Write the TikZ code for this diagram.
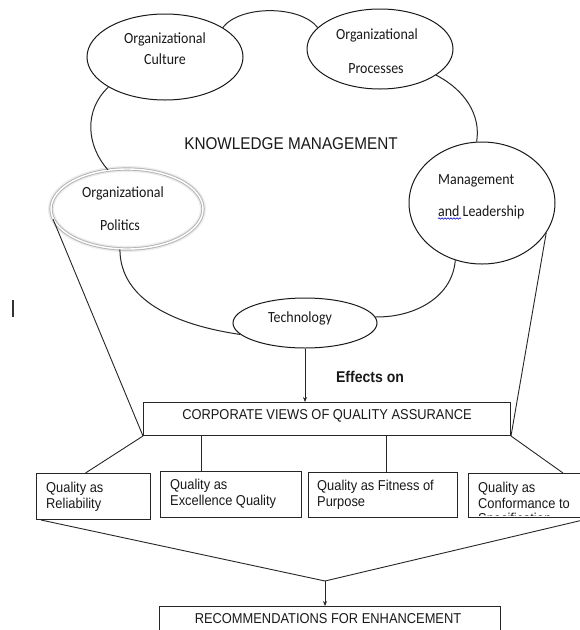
\documentclass[tikz,border=0pt]{standalone}
\usepackage{fontspec}
\setmainfont{Liberation Sans}[FakeStretch=0.9]
\newfontfamily\calib{Carlito}[FakeStretch=0.9]
\usetikzlibrary{arrows.meta,shapes.geometric,decorations.pathmorphing}
\begin{document}
\begin{tikzpicture}[x=1pt,y=-1pt,
  ell/.style={ellipse,draw=black!90,line width=1pt,inner sep=0pt},
  polit/.style={ellipse,inner sep=0pt,draw=gray!60,line width=0.9pt,double=white,double distance=1.4pt},
  lab/.style={font=\calib\fontsize{15.5}{16}\selectfont,inner sep=0pt,text=black!90,anchor=base},
  box/.style={rectangle,draw=black!85,line width=1pt,inner sep=0pt,anchor=north west},
  btxt/.style={font=\fontsize{14.3}{15.5}\selectfont,inner sep=0pt,align=left,anchor=north west,text=black!90},
  ctxt/.style={font=\fontsize{14.3}{15.5}\selectfont,inner sep=0pt,anchor=base,text=black!90},
  ln/.style={draw=black!85,line width=0.9pt},
  arr/.style={ln,-{Stealth[length=5pt,width=4pt]}}
]
\useasboundingbox (0,0) rectangle (580,630);
\fill[white] (0,0) rectangle (580,630);

% halo of politics ellipse
\draw[gray!15,line width=6pt] (127,209) ellipse [x radius=76, y radius=40];

% ellipses
\node[ell,minimum width=156pt,minimum height=86pt] (cult) at (165,57) {};
\node[ell,minimum width=146pt,minimum height=80pt] (proc) at (380,49) {};
\node[ell,minimum width=146pt,minimum height=122pt] (mgmt) at (482,203) {};
\node[polit,minimum width=152pt,minimum height=80pt] (pol) at (127,209) {};
\node[ell,minimum width=144pt,minimum height=50pt] (tech) at (305,323) {};

% cloud arcs
\draw[ln,line width=1pt] (cult.27) .. controls (240,5) and (300,5) .. (proc.161);
\draw[ln,line width=1pt] (proc.-25) .. controls (465,90) and (481,115) .. (mgmt.95);
\draw[ln,line width=1pt] (mgmt.245) .. controls (452,300) and (410,318) .. (tech.5);
\draw[ln,line width=1pt] (tech.190) .. controls (175,325) and (120,300) .. (pol.260);
\draw[ln,line width=1pt] (pol.116) .. controls (86,145) and (84,110) .. (cult.208);

% ellipse labels
\node[lab] (cultA) at (165,43) {Organizational};
\node[lab] (cultB) at (165,64) {Culture};
\node[lab] (procA) at (377,39) {Organizational};
\node[lab] (procB) at (376,73) {Processes};
\node[lab,anchor=base west] (mgA) at (438,184) {Management};
\node[lab,anchor=base west] (mgB) at (438,216) {and Leadership};
\draw[blue!75!black,line width=0.6pt,decorate,decoration={snake,amplitude=0.7pt,segment length=3pt}] (438,218.5) -- (461,218.5);
\node[lab] (polA) at (123,197) {Organizational};
\node[lab] (polB) at (120,230) {Politics};
\node[lab] (techT) at (300,322) {Technology};

\node[font=\fontsize{17}{18}\selectfont,inner sep=0pt,anchor=base,text=black!90] (km) at (291,149) {KNOWLEDGE MANAGEMENT};

% corporate box
\node[box,minimum width=367pt,minimum height=33pt] (corp) at (143,402) {};
\node[ctxt] (corpT) at (327,419) {CORPORATE VIEWS OF QUALITY ASSURANCE};

\draw[arr] (tech.south) -- (tech.south |- corp.north);
\node[font=\bfseries\fontsize{15.6}{16}\selectfont,inner sep=0pt,anchor=base,text=black!90] (eff) at (370,382) {Effects on};

% long side lines
\draw[ln] (pol.188) -- (corp.south west);
\draw[ln] (mgmt.-25) -- (corp.south east);

% quality boxes
\node[box,minimum width=114pt,minimum height=46pt] (q1) at (36,473) {};
\node[box,minimum width=141pt,minimum height=46pt] (q2) at (160,471) {};
\node[box,minimum width=149pt,minimum height=45pt] (q3) at (308,472) {};
\node[box,minimum width=114pt,minimum height=44pt] (q4) at (468,473) {};

\node[btxt] (q1T) at (46,482) {Quality as\\Reliability};
\node[btxt] (q2T) at (170,479) {Quality as\\Excellence Quality};
\node[btxt] (q3T) at (317,480) {Quality as Fitness of\\Purpose};
\begin{scope}
\clip (468,473) rectangle (582,515.5);
\node[btxt] (q4T) at (478,482) {Quality as\\Conformance to\\Specification};
\end{scope}

% connectors corp -> quality
\coordinate (q1t) at ([xshift=-8pt]q1.north);
\draw[ln] (corp.south west) -- (q1t);
\coordinate (v2) at ([xshift=-29.5pt]q2.north);
\draw[ln] (v2 |- corp.south) -- (v2);
\coordinate (v3) at ([xshift=3.5pt]q3.north);
\draw[ln] (v3 |- corp.south) -- (v3);
\coordinate (q4t) at ([xshift=95pt]q4.north west);
\draw[ln] (corp.south east) -- (q4t);

% recommendations
\node[box,minimum width=341pt,minimum height=34pt] (rec) at (159,606) {};
\node[ctxt] (recT) at (328,623) {RECOMMENDATIONS FOR ENHANCEMENT};

% funnel
\coordinate (fun) at (325,581);
\coordinate (f1) at ([xshift=5pt]q1.south west);
\coordinate (f4) at ([yshift=-2pt]q4.south east);
\draw[ln] (f1) -- (fun) -- (f4);
\draw[arr] (fun) -- (fun |- rec.north);

% text cursor mark
\draw[black!80,line width=1.1pt] (13,300) -- (13,317);
\end{tikzpicture}
\end{document}
